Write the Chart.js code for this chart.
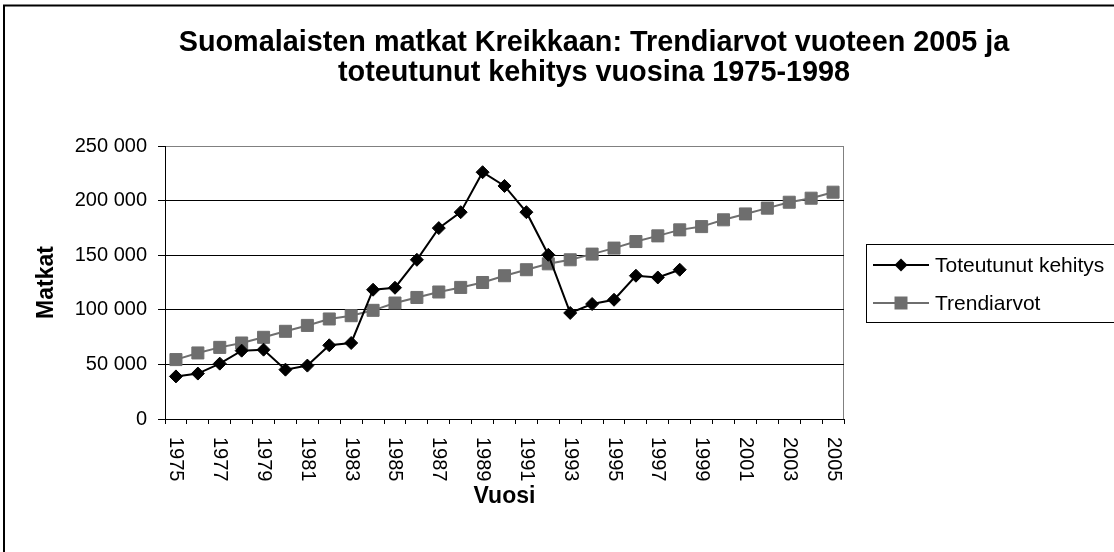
<!DOCTYPE html>
<html>
<head>
<meta charset="utf-8">
<script src="https://cdn.jsdelivr.net/npm/chart.js@4.4.1/dist/chart.umd.min.js"></script>
<style>
html,body{margin:0;padding:0;background:#fff;}
canvas{display:block;}
</style>
</head>
<body>
<canvas id="c" width="1114" height="552"></canvas>
<script>
const years = ['1975','1976','1977','1978','1979','1980','1981','1982','1983','1984','1985','1986','1987','1988','1989','1990','1991','1992','1993','1994','1995','1996','1997','1998','1999','2000','2001','2002','2003','2004','2005'];
const actualTrips = [39000, 41600, 50700, 62600, 63500, 45200, 48900, 67500, 69600, 118400, 120200, 145800, 174800, 189400, 226000, 213400, 189400, 150400, 97100, 105300, 109200, 131200, 129600, 136700];
const trendValues = [54400, 60500, 65600, 69600, 74800, 80300, 85700, 91600, 94600, 99500, 106200, 111300, 116300, 120500, 125000, 131200, 136700, 142100, 145800, 151000, 156500, 162500, 167700, 173200, 176200, 182400, 187800, 193100, 198500, 202200, 207700];
const yTickLabels = ['0', '50 000', '100 000', '150 000', '200 000', '250 000'];
const titleLines = ['Suomalaisten matkat Kreikkaan: Trendiarvot vuoteen 2005 ja', 'toteutunut kehitys vuosina 1975-1998'];
const seriesNames = ['Toteutunut kehitys', 'Trendiarvot'];
const axisTitles = { x: 'Vuosi', y: 'Matkat' };

const FONT = 'Arial, "Liberation Sans", sans-serif';
const GRAY = '#6e6e6e';
Chart.defaults.font.family = FONT;
Chart.defaults.color = '#000';

const decor = {
  id: 'decor',
  beforeDraw(chart) {
    const ctx = chart.ctx, a = chart.chartArea;
    ctx.save();
    ctx.strokeStyle = '#000';
    ctx.lineWidth = 2;
    ctx.strokeRect(4, 5.5, 2000, 2000);
    ctx.strokeStyle = '#808080';
    ctx.lineWidth = 1;
    ctx.beginPath();
    ctx.moveTo(a.left, a.top + 0.5);
    ctx.lineTo(a.right - 0.5, a.top + 0.5);
    ctx.lineTo(a.right - 0.5, a.bottom);
    ctx.stroke();
    ctx.restore();
  },
  afterDraw(chart) {
    const ctx = chart.ctx;
    ctx.save();
    // title
    ctx.fillStyle = '#000';
    ctx.font = 'bold 28.8px ' + FONT;
    ctx.textAlign = 'center';
    ctx.textBaseline = 'alphabetic';
    ctx.fillText(titleLines[0], 594, 50.5);
    ctx.fillText(titleLines[1], 594, 80.5);
    // x tick labels (rotated clockwise)
    const xs = chart.scales.x;
    ctx.font = '20px ' + FONT;
    ctx.textAlign = 'left';
    ctx.textBaseline = 'middle';
    years.forEach((yr, i) => {
      if (i % 2) return;
      const px = xs.getPixelForTick(i);
      ctx.save();
      ctx.translate(px, 437);
      ctx.rotate(Math.PI / 2);
      ctx.fillText(yr, 0, 0);
      ctx.restore();
    });
    // legend
    ctx.strokeStyle = '#000';
    ctx.lineWidth = 1;
    ctx.strokeRect(866.5, 244.5, 400, 78);
    const rows = [265, 303];
    chart.data.datasets.forEach((ds, i) => {
      const y = rows[i];
      ctx.strokeStyle = ds.borderColor;
      ctx.lineWidth = ds.borderWidth;
      ctx.beginPath();
      ctx.moveTo(873, y);
      ctx.lineTo(929, y);
      ctx.stroke();
      ctx.fillStyle = ds.pointBackgroundColor;
      ctx.beginPath();
      if (ds.pointStyle === 'rectRot') {
        const r = 6.5;
        ctx.moveTo(901 - r, y); ctx.lineTo(901, y - r); ctx.lineTo(901 + r, y); ctx.lineTo(901, y + r);
        ctx.closePath();
      } else {
        ctx.rect(901 - 6.5, y - 6.5, 13, 13);
      }
      ctx.fill();
      ctx.fillStyle = '#000';
      ctx.font = '21px ' + FONT;
      ctx.textAlign = 'left';
      ctx.textBaseline = 'middle';
      ctx.fillText(ds.label, 935, y + 1);
    });
    ctx.restore();
  }
};

new Chart(document.getElementById('c'), {
  type: 'line',
  data: {
    labels: years,
    datasets: [
      {
        label: seriesNames[0],
        data: actualTrips,
        borderColor: '#000',
        borderWidth: 2,
        pointStyle: 'rectRot',
        pointRadius: 6.5,
        pointBackgroundColor: '#000',
        pointBorderColor: '#000',
        pointBorderWidth: 1,
        tension: 0,
        fill: false
      },
      {
        label: seriesNames[1],
        data: trendValues,
        borderColor: GRAY,
        borderWidth: 2,
        pointStyle: 'rect',
        pointRadius: 8.5,
        pointBackgroundColor: GRAY,
        pointBorderColor: GRAY,
        pointBorderWidth: 1,
        tension: 0,
        fill: false
      }
    ]
  },
  options: {
    responsive: false,
    animation: false,
    layout: { padding: { top: 146, right: 270, bottom: 0, left: 0 } },
    plugins: {
      legend: { display: false },
      title: { display: false },
      tooltip: { enabled: false }
    },
    scales: {
      x: {
        type: 'category',
        offset: true,
        afterFit(scale) { scale.height = 133; },
        grid: { offset: true, drawOnChartArea: false, drawTicks: true, tickLength: 5, color: '#000' },
        border: { display: true, color: '#000', width: 1 },
        ticks: { display: false },
        title: {
          display: true, text: axisTitles.x, color: '#000',
          font: { size: 23, weight: 'bold' },
          padding: { top: 0, bottom: 42 }
        }
      },
      y: {
        min: 0,
        max: 250000,
        afterFit(scale) { scale.width = 165; },
        grid: {
          color: (c) => (c.tick && c.tick.value === 250000 ? '#808080' : '#000'),
          tickColor: '#000',
          tickLength: 7,
          drawTicks: true
        },
        border: { display: true, color: '#000', width: 1 },
        ticks: {
          stepSize: 50000,
          padding: 11,
          color: '#000',
          font: { size: 20 },
          callback: (v) => yTickLabels[Math.round(v / 50000)]
        },
        title: {
          display: true, text: axisTitles.y, color: '#000',
          font: { size: 23, weight: 'bold' },
          padding: { top: 33, bottom: 0 }
        }
      }
    }
  },
  plugins: [decor]
});
</script>
</body>
</html>
